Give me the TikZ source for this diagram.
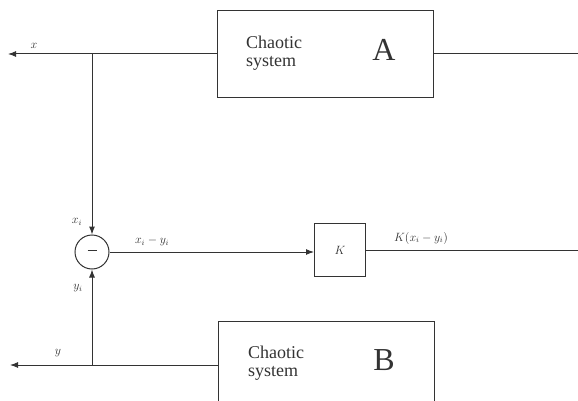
\documentclass[tikz,border=0pt]{standalone}
\usepackage{fontspec}
\setmainfont{Liberation Serif}
\usepackage{tikz}
\usetikzlibrary{arrows.meta,positioning,calc}

\begin{document}
\begin{tikzpicture}[x=1pt, y=-1pt,
  every node/.style={font=\fontsize{12}{14}\selectfont, text=black!80},
  sysbox/.style={rectangle, draw=black!80, line width=1pt,
                 minimum width=216pt, minimum height=87pt, inner sep=0pt},
  gainbox/.style={rectangle, draw=black!80, line width=1pt,
                  minimum width=51pt, minimum height=53pt, inner sep=0pt},
  sumnode/.style={circle, draw=black!80, line width=1pt,
                  minimum size=34pt, inner sep=0pt},
  systext/.style={font=\fontsize{18}{18.5}\selectfont, align=left},
  sysname/.style={font=\fontsize{32}{32}\selectfont},
  wire/.style={draw=black!80, line width=1pt},
  sig/.style={wire, -{Latex[length=8pt,width=6pt]}}]

\clip (0,0) rectangle (578,401);

% chaotic systems
\node[sysbox] (boxA) at (325,54) {};
\node[systext] (txtA) at (274,53) {Chaotic\\system};
\node[sysname] (nameA) at (384,50) {A};

\node[sysbox] (boxB) at (326,365) {};
\node[systext] (txtB) at (276,363) {Chaotic\\system};
\node[sysname] (nameB) at (384,360) {B};

% comparator and gain
\node[sumnode] (sum) at (92,252) {\rule[3pt]{9pt}{1.6pt}};
\node[gainbox] (gain) at (340,250) {$K$};

% free ends
\coordinate (xout) at (8,54);
\coordinate (yout) at (10,365);
\coordinate (aend) at (578,54);
\coordinate (kend) at (578,250);
\coordinate (jx) at (sum |- boxA.west);
\coordinate (jy) at (sum |- boxB.west);

% connections
\draw[sig] (boxA.west) -- (xout);
\draw[sig] (boxB.west) -- (yout);
\draw[wire] (boxA.east) -- (aend);
\draw[sig] (jx) -- (sum.north);
\draw[sig] (jy) -- (sum.south);
\draw[sig] (sum.east) -- (sum.east -| gain.west);
\draw[wire] (gain.east) -- (kend);

% labels
\node (lx) at (34,46) {$x$};
\node (ly) at (58,353) {$y$};
\node (lxi) at (77,222) {$x_i$};
\node (lyi) at (78,288) {$y_i$};
\node (ldiff) at (152,241) {$x_i - y_i$};
\node (lgain) at (421,238) {$K(x_i - y_i)$};
\end{tikzpicture}
\end{document}
